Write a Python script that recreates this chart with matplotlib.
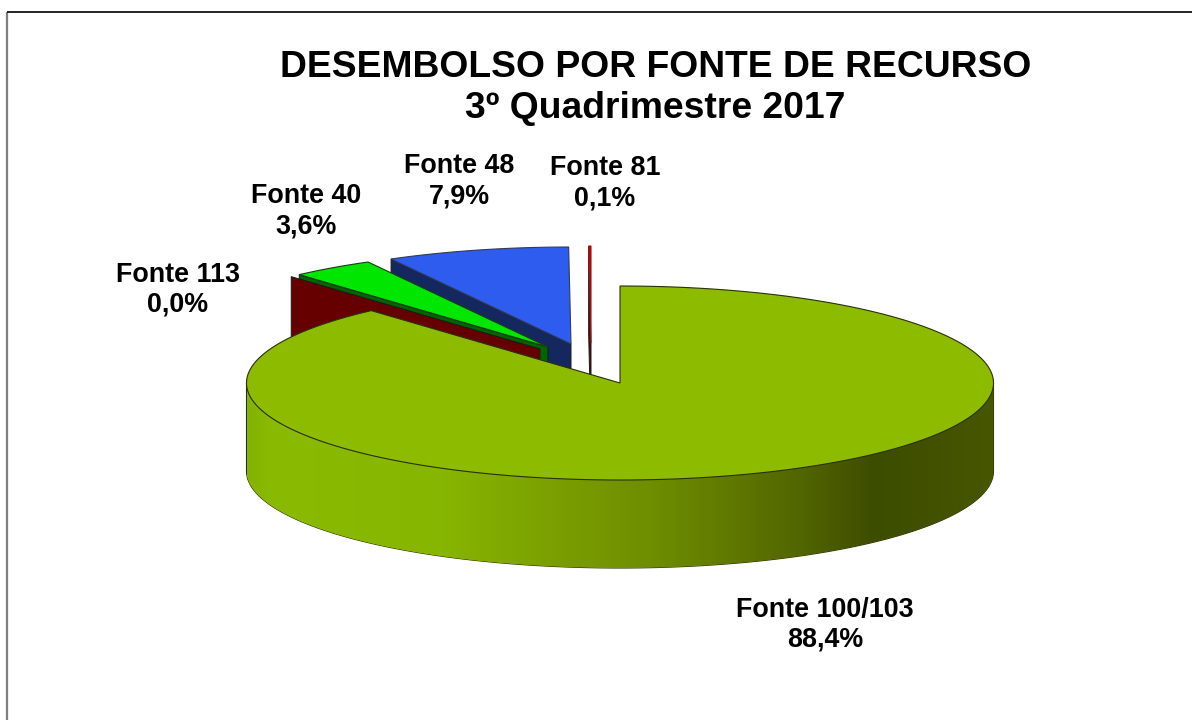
import matplotlib
matplotlib.use('Agg')
import numpy as np
import matplotlib.pyplot as plt
from matplotlib.colors import LinearSegmentedColormap
from matplotlib.patches import PathPatch, Polygon
from matplotlib.path import Path

plt.rcParams['font.family'] = ['Liberation Sans', 'DejaVu Sans']

titulo = 'DESEMBOLSO POR FONTE DE RECURSO\n3º Quadrimestre 2017'

# en sentido horario desde las 12
fontes = ['Fonte 100/103', 'Fonte 113', 'Fonte 40', 'Fonte 48', 'Fonte 81']
valores = [88.4, 0.0, 3.6, 7.9, 0.1]
etiquetas = ['88,4%', '0,0%', '3,6%', '7,9%', '0,1%']

cor_topo = ['#8CBB00', '#7A0000', '#00E600', '#2D5CEE', '#C00000']
cor_lado = ['#8CBB00', '#660000', '#006400', '#14285F', '#5A0A0A']
cor_borda = ['#2a3000', '#1a1a1a', '#1a3a1a', '#333a55', '#A01010']

# desplazamiento de cada porcion respecto al centro (pixeles)
explosao = [(0, 0), (-80, -34), (-72, -36), (-49, -39), (-29, -40)]
pos_texto = [(825, 624.5), (178, 290), (306, 211), (459, 181), (605, 183)]

CX, CY = 620, 383
RX, RY = 373.5, 97
ALTURA = 88
ORDEM = [4, 3, 2, 1]  # de atras hacia adelante


def arco(a0, a1, dx=0, dy=0, n=400):
    t = np.radians(np.linspace(a0, a1, n))
    return np.column_stack((CX + dx + RX * np.sin(t), CY + dy - RY * np.cos(t)))


fig = plt.figure(figsize=(11.92, 7.2), dpi=100)
ax = fig.add_axes([0, 0, 1, 1])

angulos = np.concatenate(([0], np.cumsum(valores))) * 3.6
angulos[-1] = 360

# porciones separadas
for i in ORDEM:
    dx, dy = explosao[i]
    ap = np.array([CX + dx, CY + dy])
    a0, a1 = angulos[i], angulos[i + 1]
    borda = arco(a0, a1, dx, dy, 60)
    # cara interna, se extiende hacia abajo y queda tapada por la porcion grande
    canto = borda[0]
    lado = [ap, canto, canto + [0, ALTURA], ap + [0, ALTURA]]
    ax.add_patch(Polygon(lado, closed=True, fc=cor_lado[i], ec='#1a1a1a', lw=0.7, zorder=2))
    if valores[i] > 0:
        topo = np.vstack((ap, borda))
        ax.add_patch(Polygon(topo, closed=True, fc=cor_topo[i], ec=cor_borda[i], lw=0.8, zorder=2))

# pared de la porcion grande con degradado
frente = arco(90, 270)
parede = np.vstack((frente, frente[::-1] + [0, ALTURA]))
caminho = Path(np.vstack((parede, parede[0])), closed=True)
patch_p = PathPatch(caminho, fc='none', ec='#2a3000', lw=0.8, zorder=3)
ax.add_patch(patch_p)
mapa = LinearSegmentedColormap.from_list('verde', [
    (0.00, '#84B200'), (0.03, '#8ABA00'), (0.26, '#87B600'), (0.42, '#7A9E00'),
    (0.54, '#6F8E00'), (0.74, '#526600'), (0.84, '#3D4D00'), (1.00, '#465600')])
grad = np.linspace(0, 1, 512).reshape(1, -1)
im = ax.imshow(grad, cmap=mapa, aspect='auto', zorder=3,
               extent=(CX - RX, CX + RX, CY + ALTURA + RY + 2, CY - 2))
im.set_clip_path(patch_p)

# cara superior de la porcion grande
arco_g = arco(angulos[0], angulos[1])
ax.add_patch(Polygon(np.vstack(([CX, CY], arco_g)), closed=True, fc=cor_topo[0],
                     ec='#2a3000', lw=0.8, zorder=4))

for nome, pct, (x, y) in zip(fontes, etiquetas, pos_texto):
    ax.text(x, y, nome + '\n' + pct, ha='center', va='center', fontsize=19.4,
            fontweight='bold', color='black', linespacing=1.2, zorder=5)

ax.text(655.5, 88, titulo, ha='center', va='center', fontsize=26.8, fontweight='bold',
        color='black', linespacing=1.25, zorder=5)

# marco de la imagen
ax.plot([7, 7], [12, 720], color='#808080', lw=1.6, zorder=6, solid_capstyle='butt')
ax.plot([7, 1192], [12, 12], color='black', lw=1.2, zorder=6, solid_capstyle='butt')

ax.set_xlim(0, 1192)
ax.set_ylim(720, 0)
ax.axis('off')

fig.savefig('out.png', dpi=100)
